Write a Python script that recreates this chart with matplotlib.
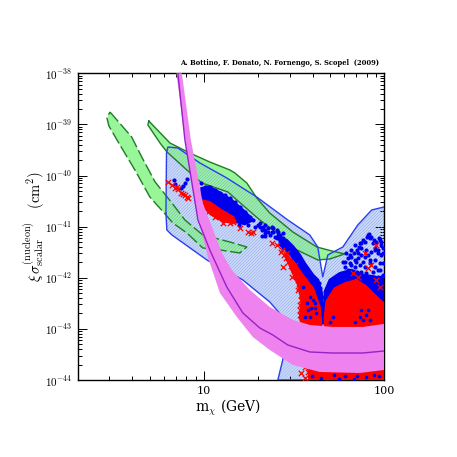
import numpy as np
import matplotlib
matplotlib.use('Agg')
import matplotlib.pyplot as plt
from matplotlib.ticker import LogLocator

# all contours are log10(mass/GeV), log10(sigma/cm2)
band_low_m = [.480, .600, .655, .729, .823, .895, .994, 1.144, 1.238, 1.199, 1.089, .994, .906, .828, .790, .701, .618, .535, .474, .463]
band_low_s = [-38.757, -39.246, -39.631, -40.120, -40.537, -40.869, -41.163, -41.300, -41.398, -41.515, -41.456, -41.417, -41.124, -40.928, -40.772, -40.420, -39.891, -39.402, -39.031, -38.874]

band_up_m = [.695, .812, .922, 1.033, 1.144, 1.172, 1.238, 1.293, 1.365, 1.493, 1.626, 1.709, 1.781, 1.698, 1.631, 1.493, 1.404, 1.310, 1.227, 1.133, .989, .906, .795, .757, .690]
band_up_s = [-38.933, -39.363, -39.559, -39.735, -39.891, -39.950, -40.146, -40.439, -40.733, -41.104, -41.398, -41.476, -41.534, -41.632, -41.652, -41.417, -41.124, -40.869, -40.615, -40.322, -40.146, -39.891, -39.537, -39.363, -39.011]

hatch_top_m = [.790, .793, .801, .856, .978, 1.127, 1.293, 1.465, 1.587, 1.631, 1.659, 1.687, 1.770, 1.853, 1.930, 1.998]
hatch_top_s = [-40.733, -39.559, -39.442, -39.461, -39.754, -40.048, -40.420, -40.869, -41.163, -41.398, -41.984, -41.554, -41.398, -40.967, -40.674, -40.615]
hatch_low_m = [1.998, 1.410, 1.437, 1.476, 1.365, 1.216, 1.017, .823, .795, .790]
hatch_low_s = [-44, -44, -43.608, -42.923, -42.473, -42.043, -41.652, -41.163, -41.065, -40.733]

lim_m = [.856, .895, .961, .967, 1.033, 1.127, 1.216, 1.310, 1.382, 1.465, 1.587, 1.714, 1.880, 1.998]
lim_s = [-38.0, -39.305, -40.733, -40.869, -41.456, -42.18, -42.689, -42.982, -43.119, -43.315, -43.452, -43.472, -43.472, -43.433]
lim_hi_m = [.878, .928, .994, 1.100, 1.155, 1.255, 1.365, 1.493, 1.587, 1.714, 1.880, 1.998]
lim_hi_s = [-38, -39.305, -40.537, -41.515, -41.848, -42.239, -42.571, -42.825, -42.923, -42.962, -42.962, -42.903]
lim_lo_m = [.848, .889, .950, 1.022, 1.089, 1.183, 1.271, 1.365, 1.493, 1.642, 1.864, 1.998]
lim_lo_s = [-38, -39.109, -40.537, -41.593, -42.297, -42.767, -43.158, -43.412, -43.706, -43.843, -43.863, -43.804]

# the dense parts of the scatter, outlined
blue_a_m = [.987, 1.024, 1.080, 1.153, 1.227, 1.273, 1.227, 1.172, 1.098, 1.024, .987]
blue_a_s = [-40.250, -40.217, -40.315, -40.478, -40.706, -40.869, -40.950, -40.900, -40.720, -40.580, -40.450]
red_a_m = [.996, 1.033, 1.098, 1.163, 1.175, 1.107, 1.043, 1.006]
red_a_s = [-40.490, -40.520, -40.680, -40.810, -40.921, -40.902, -40.771, -40.641]
blue_b_m = [1.421, 1.458, 1.495, 1.532, 1.559, 1.605, 1.633, 1.652, 1.661, 1.664, 1.652, 1.633, 1.596, 1.550, 1.504, 1.448, 1.421]
blue_b_s = [-41.228, -41.260, -41.391, -41.554, -41.717, -41.945, -42.043, -42.271, -42.629, -42.890, -42.890, -42.629, -42.336, -41.977, -41.651, -41.423, -41.358]
red_b_m = [1.449, 1.504, 1.541, 1.605, 1.642, 1.652, 1.550, 1.532, 1.541, 1.522, 1.485]
red_b_s = [-41.521, -41.717, -41.912, -42.206, -42.564, -42.955, -42.955, -42.792, -42.434, -42.140, -41.847]
blue_c_m = [1.670, 1.698, 1.753, 1.818, 1.882, 1.947, 1.997, 1.997, 1.670]
blue_c_s = [-42.271, -42.043, -41.912, -41.847, -41.945, -41.977, -42.043, -42.825, -42.825]
red_c_m = [1.670, 1.679, 1.725, 1.781, 1.845, 1.901, 1.956, 1.997, 1.997, 1.670]
red_c_s = [-42.760, -42.466, -42.206, -42.108, -42.043, -42.173, -42.369, -42.499, -42.955, -42.955]
red_d_m = [1.585, 1.997, 1.997, 1.585]
red_d_s = [-43.7, -43.7, -43.99, -43.99]

# single points, blue ones under the red
blue_m = [.834, .840, .904, .886, .876, .895, .984, 1.218, 1.246, 1.194, 1.283, 1.320, 1.338, 1.301, 1.310, 1.329, 1.356, 1.384, 1.412, 1.430, 1.375, 1.403, 1.338, 1.439,
          1.310, 1.338, 1.356, 1.366, 1.384, 1.393, 1.412, 1.421, 1.439, 1.338, 1.320, 1.439, 1.421, 1.375, 1.403,
          1.772, 1.790, 1.809, 1.818, 1.836, 1.864, 1.882, 1.910, 1.919, 1.938, 1.975, 1.984, 1.965, 1.901, 1.947, 1.919, 1.975, 1.965, 1.984, 1.855, 1.873, 1.947, 1.845, 1.809, 1.781, 1.882, 1.993,
          1.781, 1.799, 1.818, 1.831, 1.846, 1.860, 1.873, 1.892, 1.905, 1.916, 1.928, 1.941, 1.956, 1.971, 1.984, 1.993, 1.836, 1.855, 1.873, 1.892, 1.910, 1.928, 1.947, 1.965, 1.984,
          1.818, 1.836, 1.864, 1.892, 1.919, 1.947, 1.975, 1.993, 1.799, 1.772, 1.744, 1.725, 1.873, 1.901, 1.938, 1.965, 1.993, 1.808, 1.846,
          1.430, 1.449, 1.467, 1.485, 1.504, 1.522, 1.541, 1.559, 1.578, 1.596, 1.615, 1.639, 1.646, 1.657, 1.652, 1.661, 1.639, 1.624, 1.605, 1.578, 1.550, 1.522, 1.495, 1.467, 1.439,
          1.006, 1.033, 1.061, 1.089, 1.116, 1.144, 1.172, 1.200, 1.227, 1.255, 1.273]
blue_s = [-40.087, -40.165, -40.074, -40.204, -40.250, -40.152, -40.139, -40.869, -40.967, -40.967, -40.999, -41.182, -41.182, -40.967, -40.934, -40.999, -41.032, -41.097, -41.162, -41.228, -40.999, -41.065, -41.065, -41.130,
          -40.999, -40.967, -41.097, -41.162, -41.032, -41.195, -41.097, -41.260, -41.228, -41.130, -41.065, -41.358, -41.162, -41.097, -41.228,
          -41.684, -41.521, -41.554, -41.456, -41.358, -41.325, -41.260, -41.162, -41.228, -41.325, -41.260, -41.358, -41.521, -41.456, -41.651, -41.717, -41.717, -41.847, -41.977, -41.521, -41.423, -41.456, -41.684, -41.717, -41.782, -41.684, -41.521,
          -41.684, -41.619, -41.586, -41.521, -41.456, -41.391, -41.325, -41.293, -41.208, -41.143, -41.195, -41.260, -41.293, -41.228, -41.293, -41.423, -41.651, -41.619, -41.554, -41.586, -41.554, -41.488, -41.423, -41.456, -41.554,
          -41.749, -41.782, -41.749, -41.782, -41.651, -41.782, -41.847, -41.717, -41.847, -41.912, -41.945, -42.010, -41.880, -41.912, -41.880, -41.977, -41.945, -41.945, -41.880,
          -41.260, -41.325, -41.358, -41.456, -41.521, -41.619, -41.684, -41.782, -41.880, -41.977, -42.043, -42.108, -42.206, -42.369, -42.499, -42.662, -42.466, -42.336, -42.173, -42.010, -41.880, -41.749, -41.619, -41.488, -41.391,
          -40.230, -40.230, -40.282, -40.334, -40.380, -40.445, -40.523, -40.621, -40.706, -40.804, -40.869]

# blue points seen on top of the red
blue_top_m = [1.873, 1.901, 1.919, 1.836, 1.716, 1.882, 1.605, 1.578, 1.615, 1.587, 1.864, 1.910, 1.698,
              1.550, 1.587, 1.615, 1.569, 1.624, 1.596, 1.559,
              1.60, 1.65, 1.72, 1.78, 1.85, 1.90, 1.94, 1.97, 1.75, 1.83]
blue_top_s = [-42.629, -42.727, -42.825, -42.858, -42.760, -42.825, -42.434, -42.629, -42.597, -42.760, -42.760, -42.629, -42.858,
              -42.173, -42.369, -42.499, -42.499, -42.695, -42.597, -42.760,
              -43.93, -43.97, -43.90, -43.93, -43.92, -43.95, -43.90, -43.93, -43.98, -43.98]

red_m = [.803, .821, .840, .858, .849, .876, .895, .913, .904, .886, 1.200, 1.246, 1.264, 1.273, 1.375, 1.403, 1.434,
         1.439, 1.491, 1.956, 1.892, 1.928, 1.910, 1.827, 1.855, 1.873, 1.975, 1.956, 1.532, 1.541, 1.522, 1.504, 1.458,
         1.430, 1.443, 1.454, 1.467, 1.482, 1.498, 1.513, 1.522, 1.528, 1.541, 1.532, 1.535, 1.546, 1.554,
         1.024, 1.061, 1.107, 1.144, 1.163,
         1.54, 1.56, 1.56, 1.575]
red_s = [-40.119, -40.184, -40.250, -40.269, -40.217, -40.334, -40.380, -40.445, -40.413, -40.360, -41.032, -41.097, -41.130, -41.097, -41.312, -41.358, -41.456,
         -41.782, -41.977, -41.358, -41.521, -41.749, -41.814, -41.912, -41.977, -42.173, -42.173, -42.043, -42.629, -42.434, -42.238, -41.749, -41.521,
         -41.488, -41.554, -41.619, -41.684, -41.769, -41.847, -41.945, -42.043, -42.206, -42.336, -42.532, -42.727, -42.858, -42.499,
         -40.706, -40.804, -40.921, -40.934, -40.902,
         -43.87, -43.96, -43.75, -43.85]

plt.rcParams['mathtext.fontset'] = 'cm'
plt.rcParams['font.family'] = 'DejaVu Serif'
plt.rcParams['hatch.linewidth'] = 0.3


def lin(values):
    return 10.0 ** np.array(values)


fig = plt.figure(figsize=(4.57, 4.57), dpi=100)
ax = fig.add_axes([0.170, 0.1685, 0.671, 0.6711])
ax.set_xscale('log')
ax.set_yscale('log')
ax.set_xlim(2, 100)
ax.set_ylim(1e-44, 1e-38)

green = '#98f598'
dark_green = '#1f7a2a'
blue = '#0000ee'

# pale backing so the fine hatch does not leave moire gaps
ax.fill(lin(hatch_top_m + hatch_low_m), lin(hatch_top_s + hatch_low_s), color='#cddaf8', lw=0, zorder=0.5)
ax.fill(lin(band_low_m), lin(band_low_s), color=green, lw=0, zorder=1)
ax.fill(lin(band_up_m), lin(band_up_s), color=green, lw=0, zorder=1)
ax.fill(lin(hatch_top_m + hatch_low_m), lin(hatch_top_s + hatch_low_s), facecolor='none', edgecolor='#7d9cec', hatch='/' * 11, lw=0, zorder=2)
ax.plot(lin(band_low_m + band_low_m[:1]), lin(band_low_s + band_low_s[:1]), color=dark_green, lw=1.0, dashes=(9, 2.5), zorder=3)
ax.plot(lin(band_up_m + band_up_m[:1]), lin(band_up_s + band_up_s[:1]), color=dark_green, lw=1.0, zorder=3)
ax.plot(lin(hatch_top_m), lin(hatch_top_s), color='#2a3ff0', lw=1.0, zorder=3)
ax.plot(lin(hatch_low_m), lin(hatch_low_s), color='#2a3ff0', lw=1.0, zorder=3)

for m, s in [(blue_a_m, blue_a_s), (blue_b_m, blue_b_s), (blue_c_m, blue_c_s)]:
    ax.fill(lin(m), lin(s), color=blue, lw=1.8, zorder=4)
ax.scatter(lin(blue_m), lin(blue_s), s=9, c=blue, lw=0, zorder=4)
for m, s in [(red_a_m, red_a_s), (red_b_m, red_b_s), (red_c_m, red_c_s), (red_d_m, red_d_s)]:
    ax.fill(lin(m), lin(s), color='#ff0000', lw=1.5, zorder=5)
ax.scatter(lin(red_m), lin(red_s), s=15, c='#ff0000', marker='x', lw=0.9, zorder=5)
ax.scatter(lin(blue_top_m), lin(blue_top_s), s=7, c=blue, lw=0, zorder=6)

ax.fill(lin(lim_hi_m + lim_lo_m[::-1]), lin(lim_hi_s + lim_lo_s[::-1]), color='#ee82ee', lw=0, zorder=7)
ax.plot(lin(lim_m), lin(lim_s), color='#9a20c8', lw=1.0, zorder=8)

ax.set_xticks([10, 100])
ax.set_xticklabels(['10', '100'])
ax.set_yticks([10.0 ** e for e in range(-44, -37)])
ax.set_yticklabels(['$10^{%d}$' % e for e in range(-44, -37)])
ax.tick_params(which='major', direction='in', top=True, right=True, length=6.5, width=0.7, labelsize=8)
ax.tick_params(axis='x', which='major', pad=4.5)
ax.tick_params(axis='y', which='major', pad=4)
ax.tick_params(which='minor', direction='in', top=True, right=True, length=3.2, width=0.7, labelbottom=False, labelleft=False)
ax.xaxis.set_minor_locator(LogLocator(base=10, subs=np.arange(2, 10), numticks=5))
ax.yaxis.set_minor_locator(LogLocator(base=10, subs=np.arange(2, 10), numticks=10))
for side in ax.spines.values():
    side.set_linewidth(1.0)

fig.text(0.612, 0.8625, 'A. Bottino, F. Donato, N. Fornengo, S. Scopel  (2009)', ha='center', va='center', fontsize=4.9, fontweight='bold')
fig.text(0.499, 0.107, r'm$_{\chi}$ (GeV)', ha='center', va='center', fontsize=10)
fig.text(0.075, 0.505, r'$\xi\,\sigma^{\rm (nucleon)}_{\rm scalar}\quad ({\rm cm}^2)$', rotation=90, ha='center', va='center', fontsize=10.5)

fig.savefig('out.png', dpi=100)
plt.close(fig)
